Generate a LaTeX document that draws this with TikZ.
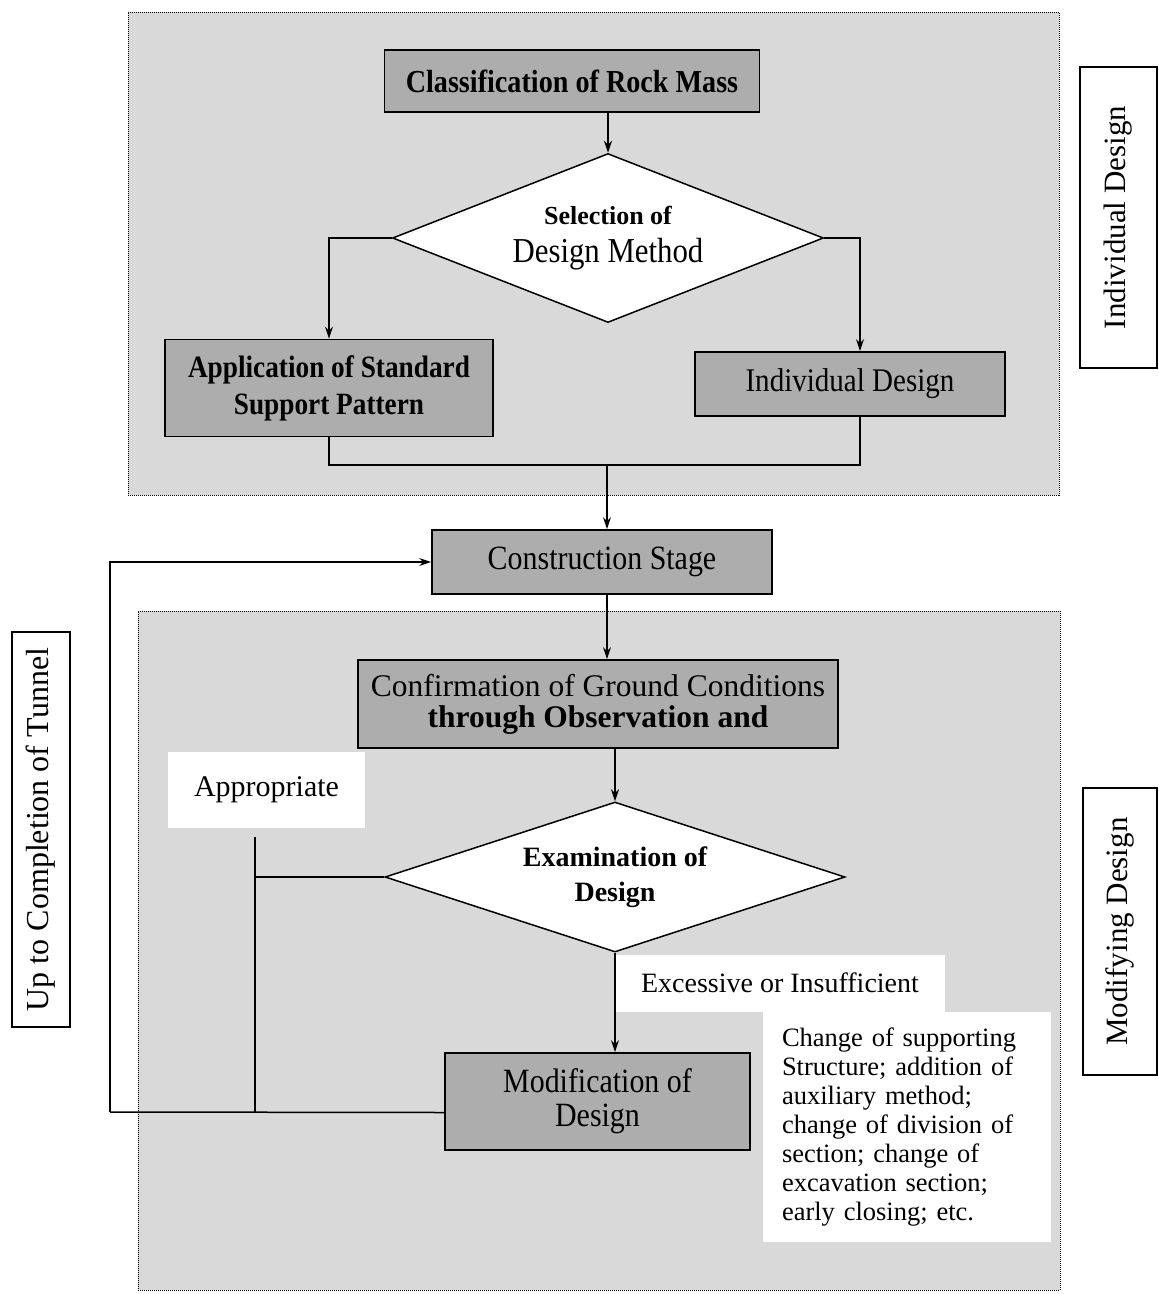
\documentclass[tikz,border=0pt]{standalone}
\usepackage{fontspec}
\setmainfont{Liberation Serif}
\newfontfamily\cond[FakeStretch=0.88]{Liberation Serif}
\usetikzlibrary{shapes.geometric,arrows.meta}
\definecolor{regionfill}{gray}{0.85}
\definecolor{boxfill}{gray}{0.68}
\newcommand\fsz[2]{\fontsize{#1}{#2}\selectfont}
\begin{document}
\begin{tikzpicture}[x=1pt,y=-1pt,
  region/.style={draw=black, densely dotted, line width=1pt, fill=regionfill, inner sep=0pt},
  procbox/.style={draw=black, line width=1.8pt, fill=boxfill, inner sep=0pt, align=center},
  decision/.style={diamond, draw=black, line width=1.5pt, fill=white, inner sep=0pt, align=center},
  sidebox/.style={draw=black, line width=1.2pt, fill=white, inner sep=0pt, rotate=90},
  wlabel/.style={fill=white, inner sep=0pt},
  conn/.style={line width=1.5pt},
  arr/.style={line width=1.8pt, -{Stealth[length=12pt,width=8pt]}}
]
\useasboundingbox (0,0) rectangle (1159,1294);

% regions
\node[region, minimum width=931, minimum height=483] (topreg) at (593.5,253.5) {};
\node[region, minimum width=922, minimum height=679] (botreg) at (599,950.5) {};

% white label areas
\node[wlabel, minimum width=197, minimum height=76, font=\fsz{30}{32}] (appr) at (266.5,790) {Appropriate};
\node[wlabel, minimum width=330, minimum height=57, font=\fsz{28}{30}] (exc) at (780,983) {Excessive or Insufficient};
\node[wlabel, minimum width=288, minimum height=230, text width=250, inner xsep=19, align=left, font=\fsz{26.5}{29}] (chg) at (907,1127)
  {Change of supporting\\Structure; addition of\\auxiliary method;\\change of division of\\section; change of\\excavation section;\\early closing; etc.};

% side labels
\node[sidebox, minimum width=301, minimum height=77, font=\fsz{31}{32}] (indside) at (1118.5,217.5) {Individual Design};
\node[sidebox, minimum width=287, minimum height=74, font=\fsz{31}{32}] (modside) at (1120,931.5) {Modifying Design};
\node[sidebox, minimum width=395, minimum height=58, font=\fsz{32}{34}] (upside) at (41,829.5) {Up to Completion of Tunnel};

% process boxes
\node[procbox, minimum width=375, minimum height=62, font=\cond\fsz{32}{34}\bfseries] (cls) at (572,81) {Classification of Rock Mass};
\node[decision, minimum width=431, minimum height=169, aspect=2.55, font=\fsz{30}{38}] (sel) at (608,238)
  {{\bfseries\fsz{26}{38}Selection of}\\{\cond\fsz{35}{38}Design Method}};
\node[procbox, minimum width=328, minimum height=97, font=\cond\fsz{31}{37}\bfseries] (app) at (329,388)
  {Application of Standard\\Support Pattern};
\node[procbox, minimum width=310, minimum height=64, font=\cond\fsz{33}{34}] (ind) at (850,384) {Individual Design};
\node[procbox, minimum width=340, minimum height=64, font=\cond\fsz{34}{35}] (con) at (602,562) {Construction Stage};
\node[procbox, minimum width=480, minimum height=88, font=\fsz{31.5}{31}] (conf) at (598,704)
  {Confirmation of Ground Conditions\\{\bfseries through Observation and}};
\node[decision, minimum width=460, minimum height=150, aspect=3.07, font=\fsz{28}{35}\bfseries] (exam) at (615,877)
  {Examination of\\Design};
\node[procbox, minimum width=305, minimum height=97, font=\cond\fsz{34}{34}] (mod) at (597.5,1101.5)
  {Modification of\\Design};

% connectors
\coordinate (mrg) at (607,465);
\coordinate (loopc) at (110,1112);
\coordinate (vtop) at (255,837);
\coordinate (vbot) at (255,1112);
\coordinate (modw) at ([yshift=-11pt]mod.west);

\draw[arr] (cls.south -| sel.north) -- (sel.north);
\draw[arr] (sel.west) -| (app.north);
\draw[arr] (sel.east) -| ([xshift=10pt]ind.north);
\draw[conn] (app.south) |- (mrg) -| ([xshift=10pt]ind.south);
\draw[arr] (mrg) -- (mrg |- con.north);
\draw[arr] ([xshift=5pt]con.south) -- ([xshift=5pt]con.south |- conf.north);
\draw[arr] (conf.south -| exam.north) -- (exam.north);
\draw[arr] (exam.south) -- (exam.south |- mod.north);
\draw[conn] (modw) -- (loopc);
\draw[arr, line width=1.5pt] (loopc) |- (con.west);
\draw[line width=2.5pt] (vtop) -- (vbot);
\draw[conn] (exam.west) -- (exam.west -| vtop);
\end{tikzpicture}
\end{document}
